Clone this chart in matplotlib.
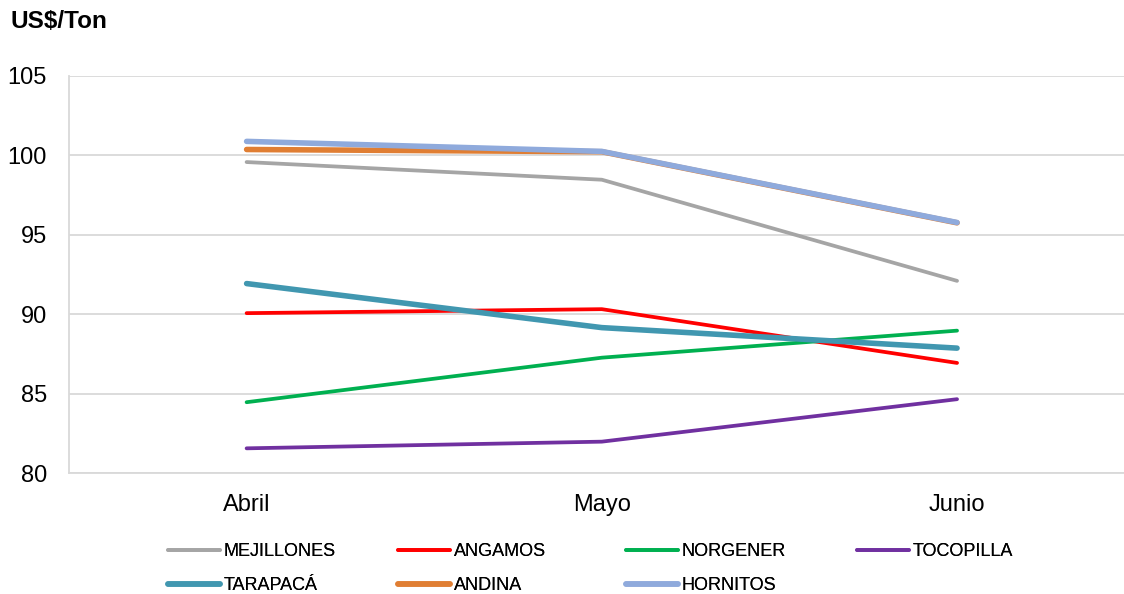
import matplotlib
matplotlib.use("Agg")
import matplotlib.pyplot as plt

plt.rcParams['font.family'] = ['Liberation Sans', 'DejaVu Sans']

meses = ["Abril", "Mayo", "Junio"]

mejillones = [99.57, 98.46, 92.10]
angamos = [90.07, 90.32, 86.94]
norgener = [84.47, 87.27, 88.97]
tocopilla = [81.57, 81.99, 84.66]
tarapaca = [91.93, 89.16, 87.87]
andina = [100.36, 100.22, 95.75]
hornitos = [100.87, 100.24, 95.77]

series = [
    ("MEJILLONES", mejillones, "#A5A5A5", 2.7),
    ("ANGAMOS", angamos, "#FF0000", 2.7),
    ("NORGENER", norgener, "#00B050", 2.7),
    ("TOCOPILLA", tocopilla, "#7030A0", 2.7),
    ("TARAPACÁ", tarapaca, "#4197B0", 4.0),
    ("ANDINA", andina, "#E07E33", 4.0),
    ("HORNITOS", hornitos, "#8FAADC", 4.0),
]

fig = plt.figure(figsize=(11.24, 5.94), dpi=100)
ax = fig.add_axes([69 / 1124, 1 - 473.3 / 594, 1 - 69 / 1124, (473.3 - 75.7) / 594])

x = list(range(len(meses)))
lines = {}
for name, vals, color, lw in series:
    ln, = ax.plot(x, vals, color=color, lw=lw, solid_capstyle='round',
                  solid_joinstyle='round', label=name)
    lines[name] = ln

ax.set_xlim(-0.5, 2.47)
ax.set_ylim(80, 105)
ax.set_yticks([80, 85, 90, 95, 100, 105])
ax.set_xticks(x)
ax.set_xticklabels(meses)
ax.yaxis.grid(True, color="#D9D9D9", lw=1.3)
ax.set_axisbelow(True)
for side in ("top", "right"):
    ax.spines[side].set_visible(False)
for side in ("left", "bottom"):
    ax.spines[side].set_color("#D9D9D9")
    ax.spines[side].set_linewidth(1.3)
ax.tick_params(axis='both', length=0, labelsize=17, colors="black")
ax.tick_params(axis='y', pad=16)
ax.tick_params(axis='x', pad=15)

fig.text(10 / 1124, 1 - 22 / 594, "US$/Ton", fontsize=17.5, fontweight='bold',
         va='center', ha='left')

# legend laid out as equal-width columns, two rows
columns = [["MEJILLONES", "TARAPACÁ"], ["ANGAMOS", "ANDINA"],
           ["NORGENER", "HORNITOS"], ["TOCOPILLA"]]
col_x = [168, 398, 626, 857]
for cx, names in zip(col_x, columns):
    leg = fig.legend([lines[n] for n in names], names, loc='upper left',
                     bbox_to_anchor=(cx / 1124, 1 - 543 / 594), frameon=False,
                     fontsize=13, handlelength=2.9, handletextpad=0.2,
                     labelspacing=0.95, borderaxespad=0, borderpad=0)
    fig.add_artist(leg)

fig.savefig("out.png", dpi=100)
